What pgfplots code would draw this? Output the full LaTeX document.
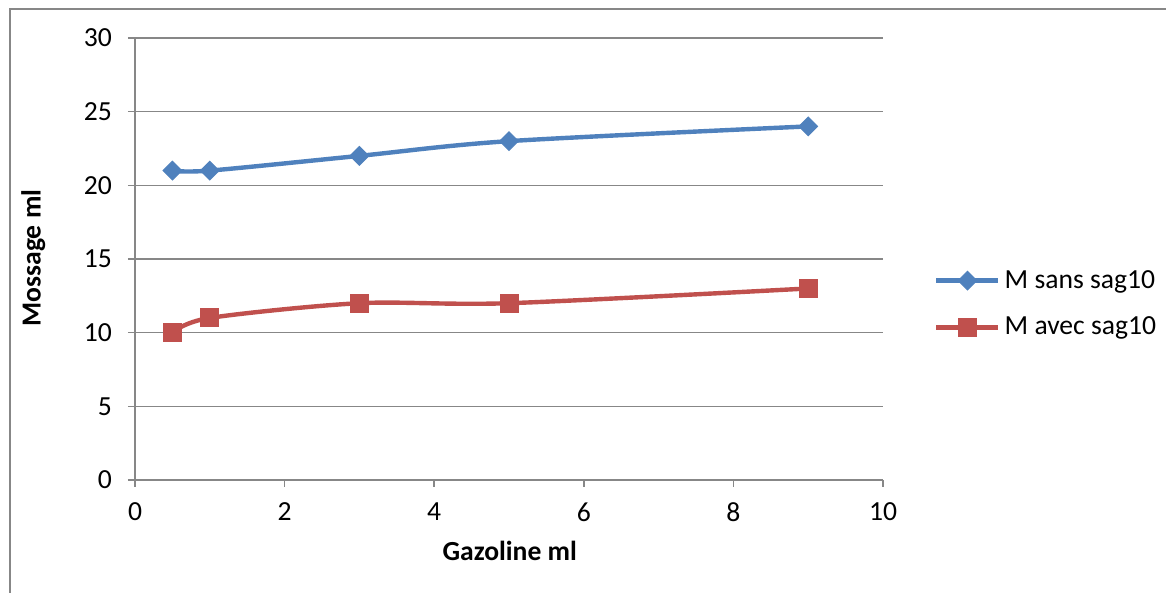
\documentclass[border=0pt]{standalone}
\usepackage{pgfplots}
\pgfplotsset{compat=1.18}
\usepackage{fontspec}
\setmainfont{Carlito}
\definecolor{sblue}{HTML}{4F81BD}
\definecolor{sred}{HTML}{C0504D}
\definecolor{gridc}{HTML}{878787}
\begin{document}
\begin{tikzpicture}
\useasboundingbox (-67.5pt,-56.5pt) rectangle (515.5pt,240pt);
\fill[white] (-67.5pt,-56.5pt) rectangle (515.5pt,240pt);
\draw[gridc, line width=0.6pt] (-62.5pt,-60pt) -- (-62.5pt,235.5pt) -- (520pt,235.5pt);
\begin{axis}[
  at={(0,0)}, anchor=south west,
  scale only axis, width=374pt, height=221pt,
  xmin=0, xmax=10, ymin=0, ymax=30,
  xtick={0,2,...,10}, ytick={0,5,...,30},
  axis lines*=left,
  axis line style={gridc, line width=0.75pt},
  ymajorgrids, grid style={gridc, line width=0.75pt},
  tick style={gridc, line width=0.75pt},
  tick align=outside, major tick length=3.5pt,
  clip=false,
  font=\fontsize{13.8}{15}\selectfont,
  /pgf/number format/assume math mode=true,
  ticklabel style={font=\fontsize{13.8}{15}\selectfont},
  yticklabel style={xshift=-4.5pt},
  xticklabel style={yshift=-4.5pt},
  xlabel={\textbf{Gazoline ml}},
  ylabel={\textbf{Mossage ml}},
  xlabel style={at={(axis description cs:0.501,-0.161)}, anchor=center},
  ylabel style={at={(axis description cs:-0.136,0.502)}, anchor=center},
  legend style={at={(rel axis cs:1.068,0.398)}, anchor=west, draw=none, fill=none,
    font=\fontsize{13.8}{15}\selectfont, row sep=9pt, inner sep=0pt},
  legend cell align=left,
  legend image code/.code={%
    \draw[#1, mark repeat=2, mark phase=2] plot coordinates {(0pt,0pt) (15.5pt,0pt) (31pt,0pt)};},
]
\addplot[sblue, line width=2.2pt, smooth, tension=0.5, mark=square*, mark size=3.3pt,
  mark options={rotate=45, fill=sblue, draw=sblue, line width=0.5pt}]
  coordinates {(0.5,21) (1,21) (3,22) (5,23) (9,24)};
\addlegendentry{M sans sag10}
\addplot[sred, line width=2.2pt, smooth, tension=0.5, mark=square*, mark size=4.5pt,
  mark options={fill=sred, draw=sred, line width=0.5pt}]
  coordinates {(0.5,10) (1,11) (3,12) (5,12) (9,13)};
\addlegendentry{M avec sag10}
\end{axis}
\end{tikzpicture}
\end{document}
